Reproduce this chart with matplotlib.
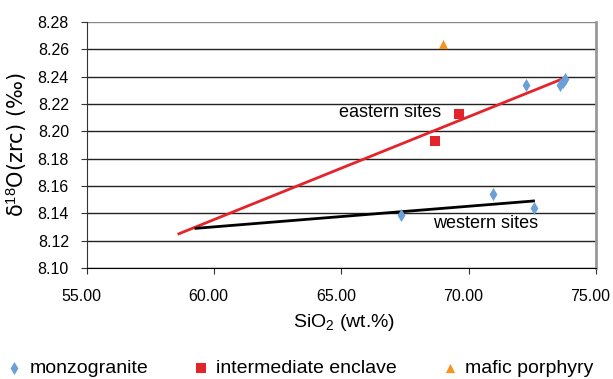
import matplotlib
matplotlib.use("Agg")
import matplotlib.pyplot as plt
import matplotlib.transforms as mtransforms
from matplotlib.ticker import FormatStrFormatter

# data
monzo_x = [72.24, 73.58, 73.70, 73.77, 70.97, 72.55, 67.34]
monzo_y = [8.234, 8.234, 8.236, 8.238, 8.154, 8.144, 8.139]
encl_x = [69.62, 68.67]
encl_y = [8.213, 8.193]
mafic_x = [69.0]
mafic_y = [8.264]

# trend line endpoints
east_x = [58.61, 73.77]
east_y = [8.125, 8.239]
west_x = [59.28, 72.55]
west_y = [8.129, 8.149]

xticks = [55, 60, 65, 70, 75]
yticks = [8.10, 8.12, 8.14, 8.16, 8.18, 8.20, 8.22, 8.24, 8.26, 8.28]

plt.rcParams['font.family'] = ['Liberation Sans', 'DejaVu Sans']
plt.rcParams['mathtext.fontset'] = 'custom'
plt.rcParams['mathtext.rm'] = 'Liberation Sans'
plt.rcParams['mathtext.it'] = 'Liberation Sans'

fig = plt.figure(figsize=(6.13, 3.79), dpi=100)
ax = fig.add_axes([0.142, 0.293, 0.830, 0.649])

for y in yticks:
    ax.axhline(y, color='#222222' if y < 8.27 else '#888888', lw=1.0, zorder=1)

ax.plot(east_x, east_y, color='#e3242b', lw=2, zorder=2)
ax.plot(west_x, west_y, color='black', lw=2, zorder=2)

m1 = ax.scatter(monzo_x, monzo_y, marker='d', s=44, color='#6a9fd8', zorder=3, label='monzogranite', linewidths=0)
m2 = ax.scatter(encl_x, encl_y, marker='s', s=44, color='#e3242b', zorder=3, label='intermediate enclave', linewidths=0)
m3 = ax.scatter(mafic_x, mafic_y, marker='^', s=44, color='#f7941d', zorder=3, label='mafic porphyry', linewidths=0)

ax.text(68.9, 8.2135, 'eastern sites', ha='right', va='center', fontsize=13)
ax.text(68.6, 8.1322, 'western sites', ha='left', va='center', fontsize=13)

ax.set_xlim(55, 75)
ax.set_ylim(8.10, 8.28)
ax.set_xticks(xticks)
ax.set_yticks(yticks)
ax.xaxis.set_major_formatter(FormatStrFormatter('%.2f'))
ax.yaxis.set_major_formatter(FormatStrFormatter('%.2f'))
ax.tick_params(axis='both', labelsize=11.5, direction='out', length=4, color='#333333')
ax.tick_params(axis='x', pad=11)
ax.tick_params(axis='y', pad=9)

# x tick labels sit a little left of their ticks in the reference
shift = mtransforms.ScaledTranslation(-4 / 72, 0, fig.dpi_scale_trans)
for lab in ax.get_xticklabels():
    lab.set_transform(lab.get_transform() + shift)

ax.spines['top'].set_visible(False)
ax.spines['right'].set_color('#999999')
ax.spines['right'].set_linewidth(2)
ax.spines['left'].set_color('#333333')
ax.spines['bottom'].set_color('black')

ax.set_xlabel('SiO$_2$ (wt.%)', fontsize=14)
ax.set_ylabel('δ$^{18}$O(zrc) (‰)', fontsize=15, family=['DejaVu Sans'])
ax.xaxis.set_label_coords(0.505, -0.18)
ax.yaxis.set_label_coords(-0.115, 0.5)

fig.legend(handles=[m1, m2, m3], loc='lower left', bbox_to_anchor=(-0.012, -0.025), ncol=3,
           frameon=False, fontsize=14, handletextpad=0.3, columnspacing=2.2,
           handlelength=1.0, borderaxespad=0.2)

fig.savefig('out.png', dpi=100)
